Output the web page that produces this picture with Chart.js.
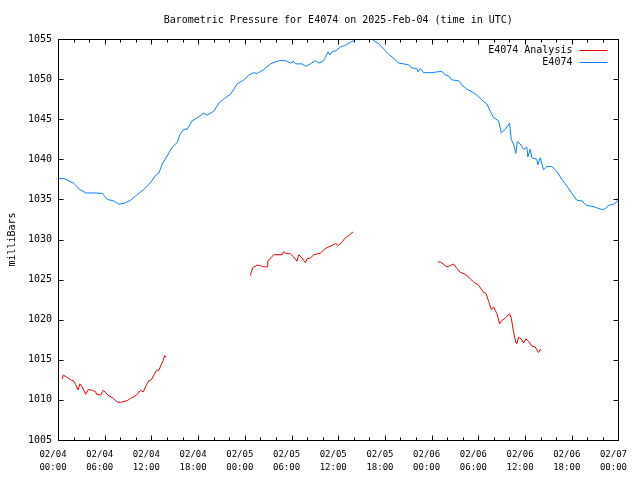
<!DOCTYPE html>
<html>
<head>
<meta charset="utf-8">
<script src="https://cdn.jsdelivr.net/npm/chart.js@4"></script>
<style>
  html, body { margin: 0; padding: 0; background: #ffffff; }
  canvas { display: block; }
</style>
</head>
<body>
<canvas id="c" width="640" height="480"></canvas>
<script>
// ---- Data (hours since 2025-02-04 00:00 UTC, pressure in milliBars) ----
const chartTitle = 'Barometric Pressure for E4074 on 2025-Feb-04 (time in UTC)';
const yAxisTitle = 'milliBars';
const xTickLabels = [
  ['02/04','00:00'],['02/04','06:00'],['02/04','12:00'],['02/04','18:00'],
  ['02/05','00:00'],['02/05','06:00'],['02/05','12:00'],['02/05','18:00'],
  ['02/06','00:00'],['02/06','06:00'],['02/06','12:00'],['02/06','18:00'],
  ['02/07','00:00']
];
const seriesLabels = ['E4074 Analysis', 'E4074'];

const stationHours = [
  0,0.77,1.41,2.05,2.70,3.56,4.62,5.69,6.33,7.19,7.83,8.47,9.33,10.18,11.04,11.90,
  12.54,12.96,13.39,14.25,14.67,15.31,15.66,16.17,16.59,17.24,18.10,18.65,19.16,20.02,
  20.66,21.52,22.16,23.01,23.87,24.51,25.15,25.58,26.44,27.30,28.36,29.22,29.86,30.29,
  30.51,31.35,31.79,32.43,33.07,33.50,34.01,34.36,34.69,34.91,35.20,35.72,36.28,36.92,
  37.57,38.21,38.85,39.91,40.43,41.20,41.84,42.48,43.12,43.76,44.41,45.05,45.47,46.11,
  46.24,46.55,46.97,48.04,48.68,49.32,49.76,50.18,50.60,51.46,51.89,52.53,53.39,54.03,
  54.67,55.10,55.53,55.96,56.60,56.95,57.46,58.01,58.23,58.52,58.82,59.00,59.38,59.81,
  60.23,60.36,60.67,60.87,61.51,61.64,61.95,62.37,62.80,63.44,64.08,64.72,65.36,66.01,
  66.65,67.29,67.93,68.79,69.21,69.85,70.29,70.71,71.35,71.91,72.0
];
const stationPressure = [
  1037.6,1037.6,1037.3,1037.0,1036.3,1035.8,1035.8,1035.75,1035.0,1034.8,1034.4,1034.5,1034.9,1035.6,1036.25,1037.1,
  1038.0,1038.3,1039.4,1040.8,1041.5,1042.1,1043.1,1043.75,1043.75,1044.8,1045.3,1045.75,1045.5,1046.0,
  1047.0,1047.7,1048.1,1049.4,1049.9,1050.5,1050.8,1050.7,1051.2,1051.9,1052.3,1052.3,1052.0,1052.2,
  1051.9,1051.9,1051.6,1051.9,1052.3,1052.0,1052.2,1052.7,1053.4,1053.0,1053.4,1053.55,1054.0,1054.2,
  1054.6,1054.9,1055.0,1055.0,1054.9,1054.4,1053.75,1053.1,1052.6,1052.0,1051.9,1051.75,1051.4,1051.3,
  1050.9,1051.3,1050.8,1050.8,1050.9,1050.95,1050.5,1050.4,1049.9,1049.8,1049.25,1048.75,1048.3,1047.8,
  1047.2,1046.9,1046.0,1045.2,1044.8,1043.3,1043.75,1044.5,1042.5,1041.9,1040.75,1042.2,1041.9,1041.25,
  1041.5,1040.3,1041.25,1040.2,1040.0,1039.3,1040.2,1038.7,1039.1,1039.1,1038.5,1037.5,1036.7,1035.75,
  1034.9,1034.8,1034.25,1034.1,1033.95,1033.75,1033.8,1034.25,1034.4,1034.8,1035.25
];

const analysisHours = [
  0.55,0.68,1.19,1.63,1.96,2.27,2.57,2.82,3.12,3.56,3.89,4.40,4.84,4.97,5.48,5.81,
  6.55,6.97,7.41,7.70,8.05,8.47,8.89,9.33,9.75,10.10,10.61,10.95,11.38,11.68,11.97,
  12.32,12.67,12.96,13.26,13.51,13.69,13.90,
  19.0,
  24.73,24.81,25.03,25.58,26.01,26.31,26.86,26.95,27.50,27.72,28.79,29.01,29.22,29.86,
  30.29,30.71,30.93,31.35,31.79,32.00,32.43,32.86,33.28,33.72,34.14,34.56,35.20,35.64,
  36.06,36.49,36.92,37.35,37.90,
  43.0,
  48.81,49.12,49.54,49.96,50.40,50.82,51.25,51.68,52.11,52.53,52.97,53.39,54.03,54.38,
  54.67,54.97,55.32,55.66,55.96,56.38,56.73,57.02,57.46,58.01,58.23,58.52,58.82,58.95,
  59.17,59.51,59.81,60.11,60.45,60.87,61.31,61.73,61.95,62.08
];
const analysisPressure = [
  1012.6,1013.1,1012.8,1012.5,1012.4,1011.9,1011.25,1012.0,1011.6,1010.7,1011.3,1011.2,1011.0,1010.7,1010.6,1011.2,
  1010.5,1010.3,1009.9,1009.7,1009.7,1009.8,1009.9,1010.2,1010.4,1010.6,1011.2,1011.0,1011.9,1012.4,1012.5,
  1013.1,1013.7,1013.7,1014.4,1014.9,1015.5,1015.35,
  null,
  1025.5,1025.9,1026.5,1026.8,1026.75,1026.6,1026.6,1027.3,1027.9,1028.1,1028.1,1028.5,1028.3,1028.2,
  1027.8,1027.3,1028.1,1027.7,1027.1,1027.6,1027.7,1028.1,1028.2,1028.3,1028.7,1029.0,1029.25,1029.5,
  1029.25,1029.7,1030.2,1030.5,1030.95,
  null,
  1027.2,1027.2,1026.9,1026.6,1026.75,1026.95,1026.4,1025.9,1025.75,1025.5,1025.1,1024.7,1024.3,1023.8,
  1023.4,1023.3,1022.3,1021.25,1021.6,1020.75,1019.5,1019.9,1020.2,1020.75,1020.2,1018.5,1017.1,1017.0,
  1017.8,1017.6,1017.1,1017.6,1017.3,1016.7,1016.6,1015.9,1016.3,1016.2
];

const xMin = 0, xMax = 72, xMajorStep = 6, xMinorStep = 2;
const yMin = 1005, yMax = 1055, yStep = 5;

// ---- Build datasets ----
const toPoints = (xs, ys) => xs.map((x, i) => ({ x: x, y: ys[i] }));

const FONT = '"DejaVu Sans Mono", "Liberation Mono", monospace';

const framePlugin = {
  id: 'frame',
  afterDraw(chart) {
    const ctx = chart.ctx;
    const a = chart.chartArea;
    const xs = chart.scales.x, ys = chart.scales.y;
    const L = Math.round(a.left) + 0.5, R = Math.round(a.right) + 0.5;
    const T = Math.round(a.top) + 0.5, B = Math.round(a.bottom) + 0.5;
    ctx.save();
    ctx.strokeStyle = '#000';
    ctx.lineWidth = 1;
    ctx.beginPath();
    // x ticks (inward, top and bottom)
    for (let h = xMin; h <= xMax; h += xMinorStep) {
      const px = Math.round(xs.getPixelForValue(h)) + 0.5;
      const len = (h % xMajorStep === 0) ? 5 : 3;
      ctx.moveTo(px, B); ctx.lineTo(px, B - len);
      ctx.moveTo(px, T); ctx.lineTo(px, T + len);
    }
    // y ticks (inward, left and right)
    for (let v = yMin; v <= yMax; v += yStep) {
      const py = Math.round(ys.getPixelForValue(v)) + 0.5;
      ctx.moveTo(L, py); ctx.lineTo(L + 5, py);
      ctx.moveTo(R, py); ctx.lineTo(R - 5, py);
    }
    ctx.stroke();
    ctx.strokeRect(L, T, R - L, B - T);

    // title
    ctx.fillStyle = '#000';
    ctx.font = '10px ' + FONT;
    ctx.textAlign = 'center';
    ctx.textBaseline = 'middle';
    ctx.fillText(chartTitle, (a.left + a.right) / 2, 20);

    // legend (text right-aligned, line sample to the right)
    ctx.textAlign = 'right';
    chart.data.datasets.forEach((ds, i) => {
      const y = Math.round(a.top) + 11 + i * 12;
      ctx.fillStyle = '#000';
      ctx.fillText(ds.label, a.right - 46, y + 0.5);
      ctx.strokeStyle = ds.borderColor;
      ctx.beginPath();
      ctx.moveTo(a.right - 39, y + 0.5);
      ctx.lineTo(a.right - 11, y + 0.5);
      ctx.stroke();
    });
    ctx.restore();
  }
};

new Chart(document.getElementById('c'), {
  type: 'line',
  data: {
    datasets: [
      {
        label: seriesLabels[0],
        data: toPoints(analysisHours, analysisPressure),
        borderColor: '#f00000',
        backgroundColor: '#f00000',
        borderWidth: 1,
        pointRadius: 0,
        tension: 0,
        spanGaps: false,
        fill: false
      },
      {
        label: seriesLabels[1],
        data: toPoints(stationHours, stationPressure),
        borderColor: '#0a80ff',
        backgroundColor: '#0a80ff',
        borderWidth: 1,
        pointRadius: 0,
        tension: 0,
        fill: false
      }
    ]
  },
  options: {
    responsive: false,
    animation: false,
    devicePixelRatio: 1,
    layout: { padding: { left: 0, right: 20, top: 39, bottom: 0 } },
    plugins: {
      legend: { display: false },
      title: { display: false },
      tooltip: { enabled: false }
    },
    scales: {
      x: {
        type: 'linear',
        min: xMin,
        max: xMax,
        grid: { display: false, drawTicks: false },
        border: { display: false },
        afterFit(scale) { scale.height = 40; },
        ticks: {
          stepSize: xMajorStep,
          autoSkip: false,
          maxRotation: 0,
          minRotation: 0,
          padding: 8,
          labelOffset: -5,
          color: '#000',
          font: { family: FONT, size: 9, lineHeight: '13px' },
          callback: (v) => {
            const i = Math.round((v - xMin) / xMajorStep);
            return xTickLabels[i] || '';
          }
        }
      },
      y: {
        min: yMin,
        max: yMax,
        grid: { display: false, drawTicks: false },
        border: { display: false },
        afterFit(scale) { scale.width = 58; },
        ticks: {
          stepSize: yStep,
          padding: 6,
          color: '#000',
          font: { family: FONT, size: 10 },
          callback: (v) => String(v)
        },
        title: {
          display: true,
          text: yAxisTitle,
          color: '#000',
          padding: { top: 6, bottom: 0 },
          font: { family: FONT, size: 10 }
        }
      }
    }
  },
  plugins: [framePlugin]
});
</script>
</body>
</html>
